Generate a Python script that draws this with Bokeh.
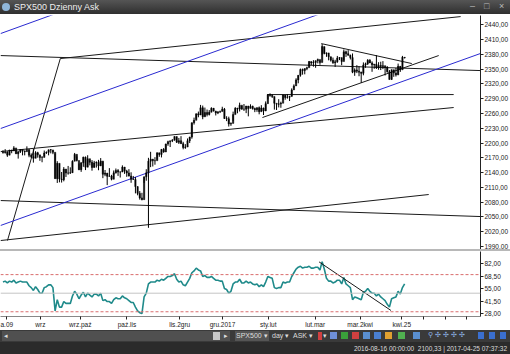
from bokeh.plotting import figure
from bokeh.models import LinearAxis, FixedTicker, Span, Label, Div, Range1d, ColumnDataSource
from bokeh.layouts import column
from bokeh.embed import file_html
from bokeh.resources import INLINE

# ---------------- data (daily bars, index 0 = 2016-08-08) ----------------
highs = [2185.4, 2187.7, 2183.5, 2186.3, 2186.3, 2193.8, 2187.0, 2183.7, 2187.9, 2185.4,
         2185.0, 2193.4, 2186.7, 2179.0, 2187.9, 2183.5, 2182.3, 2175.3, 2173.6, 2184.9,
         2183.0, 2186.6, 2187.9, 2184.9, 2178.5, 2163.3, 2150.3, 2141.3, 2151.3, 2146.5,
         2153.6, 2150.8, 2165.1, 2180.0, 2172.7, 2158.5, 2161.1, 2172.4, 2172.7, 2175.3,
         2164.4, 2165.5, 2163.9, 2162.9, 2165.9, 2169.6, 2161.6, 2145.4, 2138.2, 2149.2,
         2135.6, 2144.4, 2148.4, 2147.2, 2142.6, 2154.8, 2151.5, 2145.7, 2147.1, 2140.7,
         2133.3, 2131.1, 2111.8, 2102.6, 2099.1, 2132.0, 2146.9, 2170.1, 2182.3, 2165.9,
         2171.4, 2180.8, 2179.2, 2188.1, 2189.9, 2198.7, 2204.8, 2204.7, 2208.0, 2213.4,
         2211.6, 2210.5, 2214.1, 2202.6, 2197.9, 2209.4, 2212.8, 2241.6, 2251.7, 2259.8,
         2264.0, 2277.5, 2276.2, 2272.1, 2268.1, 2267.0, 2272.6, 2271.2, 2263.9, 2263.8,
         2266.0, 2273.8, 2271.3, 2254.5, 2253.6, 2242.0, 2263.9, 2272.8, 2271.5, 2282.1,
         2275.5, 2279.3, 2275.3, 2271.8, 2278.7, 2276.0, 2272.1, 2272.1, 2274.3, 2277.0,
         2271.8, 2284.6, 2299.6, 2301.0, 2299.0, 2286.0, 2279.1, 2289.1, 2284.0, 2298.3,
         2296.2, 2299.4, 2295.9, 2311.1, 2319.2, 2331.6, 2337.6, 2351.3, 2351.3, 2351.3,
         2355.0, 2366.7, 2365.1, 2368.3, 2367.3, 2371.5, 2367.8, 2401.0, 2394.8, 2383.9,
         2378.8, 2375.1, 2373.6, 2369.1, 2376.9, 2374.4, 2368.6, 2390.0, 2387.7, 2388.7,
         2379.6, 2381.9, 2351.8, 2358.2, 2356.2, 2344.8, 2363.8, 2363.4, 2370.4, 2370.4,
         2365.9, 2360.5, 2378.4, 2364.2, 2365.2, 2366.4, 2355.2, 2356.2, 2348.3, 2349.1,
         2348.4, 2352.5, 2361.4, 2356.2, 2377.0, 2373.5]
lows = [2178.5, 2178.6, 2172.0, 2176.0, 2179.4, 2184.5, 2177.9, 2168.5, 2180.0, 2175.1,
        2175.1, 2186.8, 2171.3, 2169.7, 2160.4, 2170.2, 2170.4, 2164.0, 2161.1, 2173.6,
        2178.0, 2175.1, 2179.1, 2177.5, 2127.8, 2119.1, 2120.3, 2119.9, 2122.4, 2131.2,
        2135.9, 2137.5, 2139.6, 2170.1, 2162.7, 2145.0, 2141.6, 2151.8, 2145.2, 2156.5,
        2154.8, 2144.0, 2150.6, 2150.3, 2144.9, 2156.1, 2128.8, 2132.8, 2114.7, 2132.0,
        2124.4, 2135.5, 2138.2, 2133.4, 2130.1, 2146.9, 2137.5, 2131.6, 2132.5, 2119.4,
        2125.5, 2097.9, 2094.0, 2085.2, 2083.8, 2119.1, 2123.6, 2028.0, 2151.2, 2152.5,
        2156.1, 2166.4, 2172.2, 2170.9, 2180.4, 2186.4, 2194.5, 2192.0, 2202.0, 2205.3,
        2200.4, 2198.2, 2198.8, 2187.4, 2188.4, 2200.0, 2200.1, 2208.9, 2237.6, 2249.2,
        2252.4, 2260.3, 2248.4, 2253.8, 2254.2, 2256.1, 2266.5, 2264.1, 2256.1, 2258.8,
        2261.0, 2266.2, 2249.1, 2244.6, 2233.6, 2235.0, 2245.1, 2261.6, 2260.5, 2264.1,
        2268.0, 2265.3, 2260.8, 2254.3, 2271.5, 2268.0, 2262.8, 2263.4, 2258.4, 2265.0,
        2257.0, 2266.7, 2288.9, 2294.1, 2291.6, 2268.0, 2267.2, 2272.4, 2271.7, 2287.9,
        2288.1, 2290.2, 2285.4, 2295.1, 2311.1, 2321.4, 2321.4, 2334.8, 2338.9, 2339.6,
        2348.0, 2355.1, 2358.3, 2355.1, 2352.9, 2361.9, 2359.0, 2379.6, 2380.2, 2375.1,
        2368.0, 2365.5, 2361.0, 2354.5, 2363.0, 2368.5, 2358.2, 2368.9, 2374.9, 2377.8,
        2369.7, 2341.9, 2336.5, 2342.1, 2335.7, 2322.3, 2337.6, 2352.9, 2358.6, 2362.6,
        2344.7, 2350.7, 2350.5, 2348.9, 2348.3, 2350.2, 2337.3, 2343.0, 2329.0, 2328.5,
        2334.5, 2335.1, 2340.0, 2344.5, 2370.0, 2372.0]
closes = [2180.9, 2181.7, 2175.5, 2185.8, 2184.1, 2190.2, 2178.2, 2182.2, 2187.0, 2183.9,
          2182.6, 2186.9, 2175.4, 2172.5, 2169.0, 2180.4, 2176.1, 2170.9, 2170.9, 2180.0,
          2181.5, 2186.5, 2186.2, 2181.3, 2127.8, 2159.0, 2127.0, 2125.8, 2147.3, 2139.2,
          2139.1, 2139.8, 2163.1, 2177.2, 2164.7, 2146.1, 2159.9, 2171.4, 2151.1, 2168.3,
          2161.2, 2150.5, 2159.7, 2160.8, 2153.7, 2163.7, 2136.7, 2139.2, 2132.6, 2133.0,
          2126.5, 2139.6, 2144.3, 2141.3, 2141.2, 2151.3, 2143.2, 2139.4, 2133.0, 2126.4,
          2126.2, 2111.7, 2097.9, 2088.7, 2085.2, 2131.5, 2139.6, 2163.3, 2167.5, 2164.4,
          2164.2, 2180.4, 2176.9, 2187.1, 2181.9, 2198.2, 2202.9, 2204.7, 2206.0, 2213.4,
          2201.7, 2204.7, 2198.8, 2191.1, 2192.0, 2204.7, 2212.2, 2241.4, 2246.2, 2259.5,
          2257.0, 2271.7, 2253.3, 2262.0, 2258.1, 2262.5, 2270.8, 2265.2, 2261.0, 2263.8,
          2264.0, 2268.9, 2249.9, 2249.3, 2238.8, 2240.0, 2257.8, 2270.8, 2269.0, 2277.0,
          2268.9, 2268.9, 2275.3, 2270.4, 2274.6, 2270.0, 2267.9, 2271.9, 2263.7, 2271.3,
          2265.2, 2280.1, 2298.4, 2296.7, 2294.7, 2280.9, 2278.9, 2279.6, 2280.9, 2297.4,
          2292.6, 2293.1, 2294.7, 2307.9, 2316.1, 2328.3, 2337.6, 2349.3, 2347.2, 2351.2,
          2353.0, 2365.4, 2362.8, 2363.8, 2367.3, 2369.8, 2363.6, 2396.0, 2381.9, 2383.1,
          2375.3, 2368.4, 2363.0, 2364.9, 2372.6, 2373.5, 2365.5, 2385.3, 2381.4, 2378.3,
          2373.5, 2344.0, 2348.5, 2346.0, 2344.0, 2341.6, 2358.6, 2361.1, 2368.1, 2362.7,
          2358.8, 2360.2, 2353.0, 2357.5, 2355.5, 2357.2, 2353.8, 2344.9, 2329.0, 2349.0,
          2342.2, 2338.2, 2355.8, 2348.7, 2374.2, 2372.9]
first_open = 2182.0

rsi = [62, 63, 61, 63, 62, 64, 61, 62, 63, 62,
       62, 62, 58, 56, 53, 57, 54, 50, 50, 56,
       57, 59, 59, 56, 31, 43, 35, 35, 41, 39,
       39, 39, 47, 52, 49, 44, 48, 51, 46, 50,
       48, 46, 49, 49, 47, 50, 42, 43, 41, 41,
       39, 43, 45, 44, 44, 47, 45, 44, 42, 40,
       40, 35, 31, 29, 28, 46, 50, 60, 62, 62,
       62, 64, 63, 65, 64, 66, 68, 68, 69, 71,
       65, 62, 63, 59, 58, 62, 66, 72, 74, 77,
       75, 74, 68, 69, 67, 67, 68, 66, 64, 64,
       63, 63, 55, 54, 50, 52, 60, 62, 62, 65,
       61, 61, 63, 61, 62, 60, 59, 60, 57, 59,
       57, 62, 68, 67, 66, 56, 55, 56, 56, 62,
       61, 62, 62, 68, 72, 76, 78, 79, 77, 78,
       78, 79, 77, 77, 78, 78, 75, 84, 76, 66,
       63, 63, 61, 62, 64, 64, 60, 67, 60, 58,
       56, 43, 46, 45, 44, 43, 51, 52, 55, 52,
       50, 50, 47, 49, 46, 44, 42, 38, 35, 44,
       45, 46, 52, 49, 56, 60]

price_ticks = [1990, 2020, 2050, 2080, 2110, 2140, 2170, 2200, 2230, 2260,
               2290, 2320, 2350, 2380, 2410, 2440]
rsi_ticks = [28.0, 41.5, 55.0, 68.5, 82.0]
rsi_levels = [30, 70]
rsi_mid = 50
ask_price = 2372.88

date_pos = [1.6, 17.2, 35.6, 57.1, 81.4, 101.1, 122.2, 143.8, 164.5, 183.7, 193.9, 203.9, 213.5]
date_txt = ["a.09", "wrz", "wrz.paź", "paź.lis", "lis.2gru", "gru.2017", "sty.lut",
            "lut.mar", "mar.2kwi", "kwi.25", "", "", ""]

# user drawn trend lines: (bar, price) -> (bar, price)
black_x0 = [2.06, 26.4, -1.15, -1.15, 121.8, 119.5, 146.6, -1.15, -1.15]
black_y0 = [2002.2, 2371.6, 2377.7, 2182.8, 2298.5, 2251.9, 2402.0, 2083.4, 2002.2]
black_x1 = [26.4, 210.8, 219.9, 207.6, 207.6, 200.7, 188.3, 219.9, 196.1]
black_y1 = [2371.6, 2456.8, 2347.2, 2272.2, 2298.5, 2377.7, 2361.5, 2050.9, 2095.6]
blue_x0 = [-1.15, -1.15, -1.15]
blue_y0 = [2032.7, 2229.5, 2422.3]
blue_x1 = [219.9, 150.2, 44.7]
blue_y1 = [2381.8, 2469.0, 2495.4]
rsi_line_x = [145.6, 178.7]
rsi_line_y = [83.7, 31.4]

FONT = "Liberation Sans"
n = len(closes)
xs = list(range(n))
opens = [first_open] + closes[:-1]
X0, X1 = -1.15, -1.15 + 482 / 2.18

# ---------------- main price chart ----------------
xr = Range1d(X0, X1)
p = figure(width=510, height=235, x_range=xr, y_range=Range1d(1984, 2459),
           output_backend="svg", toolbar_location=None,
           x_axis_location=None, y_axis_location=None,
           min_border_left=0, min_border_right=28, min_border_top=1, min_border_bottom=0)
p.title.visible = False
p.outline_line_color = None
p.background_fill_color = "white"
p.border_fill_color = "white"
p.grid.visible = False

p.segment(black_x0, black_y0, black_x1, black_y1, line_color="#1a1a1a", line_width=1)
p.segment(blue_x0, blue_y0, blue_x1, blue_y1, line_color="#2a2ad0", line_width=1)

src = ColumnDataSource(dict(x=xs, h=highs, l=lows,
                            top=[max(a, b) for a, b in zip(opens, closes)],
                            bot=[min(a, b) for a, b in zip(opens, closes)]))
p.segment("x", "h", "x", "l", source=src, line_color="black", line_width=1)
p.vbar(x="x", top="top", bottom="bot", width=0.6, source=src, fill_color="black", line_color="black", line_width=0.5)

ax = LinearAxis(ticker=FixedTicker(ticks=price_ticks),
                major_label_overrides={t: f"{t},00" for t in price_ticks})
ax.major_label_text_font = FONT
ax.major_label_text_font_size = "6.5px"
ax.major_label_text_color = "#222"
ax.major_label_standoff = 1
ax.major_tick_out = 3
ax.major_tick_in = 0
ax.minor_tick_out = 0
ax.minor_tick_in = 0
ax.axis_line_color = "#222"
ax.major_tick_line_color = "#222"
p.add_layout(ax, "right")

p.add_layout(Label(x=X1, y=ask_price, text=f"{ask_price:.2f}".replace(".", ","),
                   x_offset=1, text_baseline="middle", text_font=FONT, text_font_size="6.5px",
                   text_color="white", background_fill_color="#f07c3c",
                   padding=1))

# ---------------- RSI panel ----------------
q = figure(width=510, height=79, x_range=xr, y_range=Range1d(24.9, 94.9),
           output_backend="svg", toolbar_location=None,
           x_axis_location=None, y_axis_location=None,
           min_border_left=0, min_border_right=28, min_border_top=0, min_border_bottom=12)
q.title.visible = False
q.outline_line_color = None
q.grid.visible = False
for lv in rsi_levels:
    q.add_layout(Span(location=lv, dimension="width", line_color="#d96c6c", line_dash="3 2", line_width=1))
q.add_layout(Span(location=rsi_mid, dimension="width", line_color="#c4c4c4", line_width=1))
q.line(xs, rsi, line_color="#1f8a8a", line_width=1.6)
q.line(rsi_line_x, rsi_line_y, line_color="#1a1a1a", line_width=1)

ay = LinearAxis(ticker=FixedTicker(ticks=rsi_ticks),
                major_label_overrides={t: f"{t:.2f}".replace(".", ",") for t in rsi_ticks})
ay.major_label_text_font = FONT
ay.major_label_text_font_size = "6.5px"
ay.major_label_text_color = "#222"
ay.major_label_standoff = 1
ay.major_tick_out = 3
ay.major_tick_in = 0
ay.minor_tick_out = 0
ay.minor_tick_in = 0
ay.axis_line_color = "#222"
ay.major_tick_line_color = "#222"
q.add_layout(ay, "right")

axx = LinearAxis(ticker=FixedTicker(ticks=date_pos),
                 major_label_overrides={pp: t for pp, t in zip(date_pos, date_txt)})
axx.major_label_text_font = FONT
axx.major_label_text_font_size = "6.5px"
axx.major_label_text_color = "#222"
axx.major_label_standoff = 1
axx.major_tick_out = 3
axx.major_tick_in = 0
axx.minor_tick_out = 0
axx.minor_tick_in = 0
axx.axis_line_color = "#888"
axx.major_tick_line_color = "#222"
q.add_layout(axx, "below")

# ---------------- window chrome ----------------
title = Div(width=510, height=14, margin=0, styles={"background": "linear-gradient(#555555,#2f2f2f)"},
            text=("<div style='position:relative;width:510px;height:14px;font-family:Liberation Sans;"
                  "font-size:9px;color:#eeeeee;'>"
                  "<span style='position:absolute;left:2px;top:3px;width:8px;height:8px;border-radius:4px;"
                  "background:#8fb6d9'></span>"
                  "<span style='position:absolute;left:14px;top:1px'>SPX500 Dzienny Ask</span>"
                  "<span style='position:absolute;left:470px;top:0px;color:#bbb'>–</span>"
                  "<span style='position:absolute;left:484px;top:0px;color:#bbb'>□</span>"
                  "<span style='position:absolute;left:499px;top:0px;color:#bbb'>×</span></div>"))
sep = Div(width=510, height=2, margin=0, styles={"background": "#b8b8b8"})
toolbar = Div(width=510, height=12, margin=0, styles={"background": "#3a3a3a"},
              text=("<div style='position:relative;width:510px;height:12px;font-family:Liberation Sans;"
                    "font-size:7px;color:#dddddd;'>"
                    "<span style='position:absolute;left:2px;top:1px;width:228px;height:10px;background:#505050'></span>"
                    "<span style='position:absolute;left:4px;top:1px'>◂</span>"
                    "<span style='position:absolute;left:213px;top:2px;width:7px;height:8px;background:#c8c8c8'></span>"
                    "<span style='position:absolute;left:224px;top:1px'>▸</span>"
                    "<span style='position:absolute;left:235px;top:1px;background:#555;padding:0 1px'>SPX500 ▾</span>"
                    "<span style='position:absolute;left:272px;top:1px'>day ▾</span>"
                    "<span style='position:absolute;left:293px;top:1px'>ASK ▾</span>"
                    "<span style='position:absolute;left:318px;top:2px;width:4px;height:8px;background:#d04040'></span>"
                    "<span style='position:absolute;left:323px;top:1px'>▾</span>"
                    "<span style='position:absolute;left:330px;top:2px;width:7px;height:7px;background:#6f8fd8'></span>"
                    "<span style='position:absolute;left:341px;top:2px;width:7px;height:7px;background:#3aa03a'></span>"
                    "<span style='position:absolute;left:352px;top:2px;width:7px;height:7px;background:#d04040'></span>"
                    "<span style='position:absolute;left:363px;top:2px;width:7px;height:7px;background:#5a8fd0'></span>"
                    "<span style='position:absolute;left:374px;top:2px;width:7px;height:7px;background:#4a7fd0'></span>"
                    "<span style='position:absolute;left:385px;top:2px;width:7px;height:7px;background:#e0a030'></span>"
                    "<span style='position:absolute;left:398px;top:2px;width:7px;height:7px;background:#50b050'></span>"
                    "<span style='position:absolute;left:413px;top:2px;width:7px;height:7px;background:#5a8fd0'></span>"
                    "<span style='position:absolute;left:428px;top:0px;color:#8ab0e0'>⚲ ✣ ✣ ✣ ✣</span>"
                    "<span style='position:absolute;left:478px;top:2px;width:6px;height:7px;background:#3a6fd0'></span>"
                    "<span style='position:absolute;left:489px;top:2px;width:6px;height:7px;background:#3a6fd0'></span>"
                    "<span style='position:absolute;left:500px;top:2px;width:6px;height:7px;background:#3a6fd0'></span>"
                    "</div>"))
status = Div(width=510, height=12, margin=0, styles={"background": "#2b2b2b"},
             text=("<div style='position:relative;width:510px;height:12px;font-family:Liberation Sans;"
                   "font-size:6.5px;color:#dddddd;'>"
                   "<span style='position:absolute;right:3px;top:2px;white-space:nowrap'>2016-08-16 00:00:00&nbsp;&nbsp;2100,33"
                   "&nbsp;|&nbsp;2017-04-25 07:37:32</span></div>"))

layout = column(title, p, sep, q, toolbar, status, spacing=0, margin=0)
open("out.html", "w").write(file_html(layout, INLINE))
